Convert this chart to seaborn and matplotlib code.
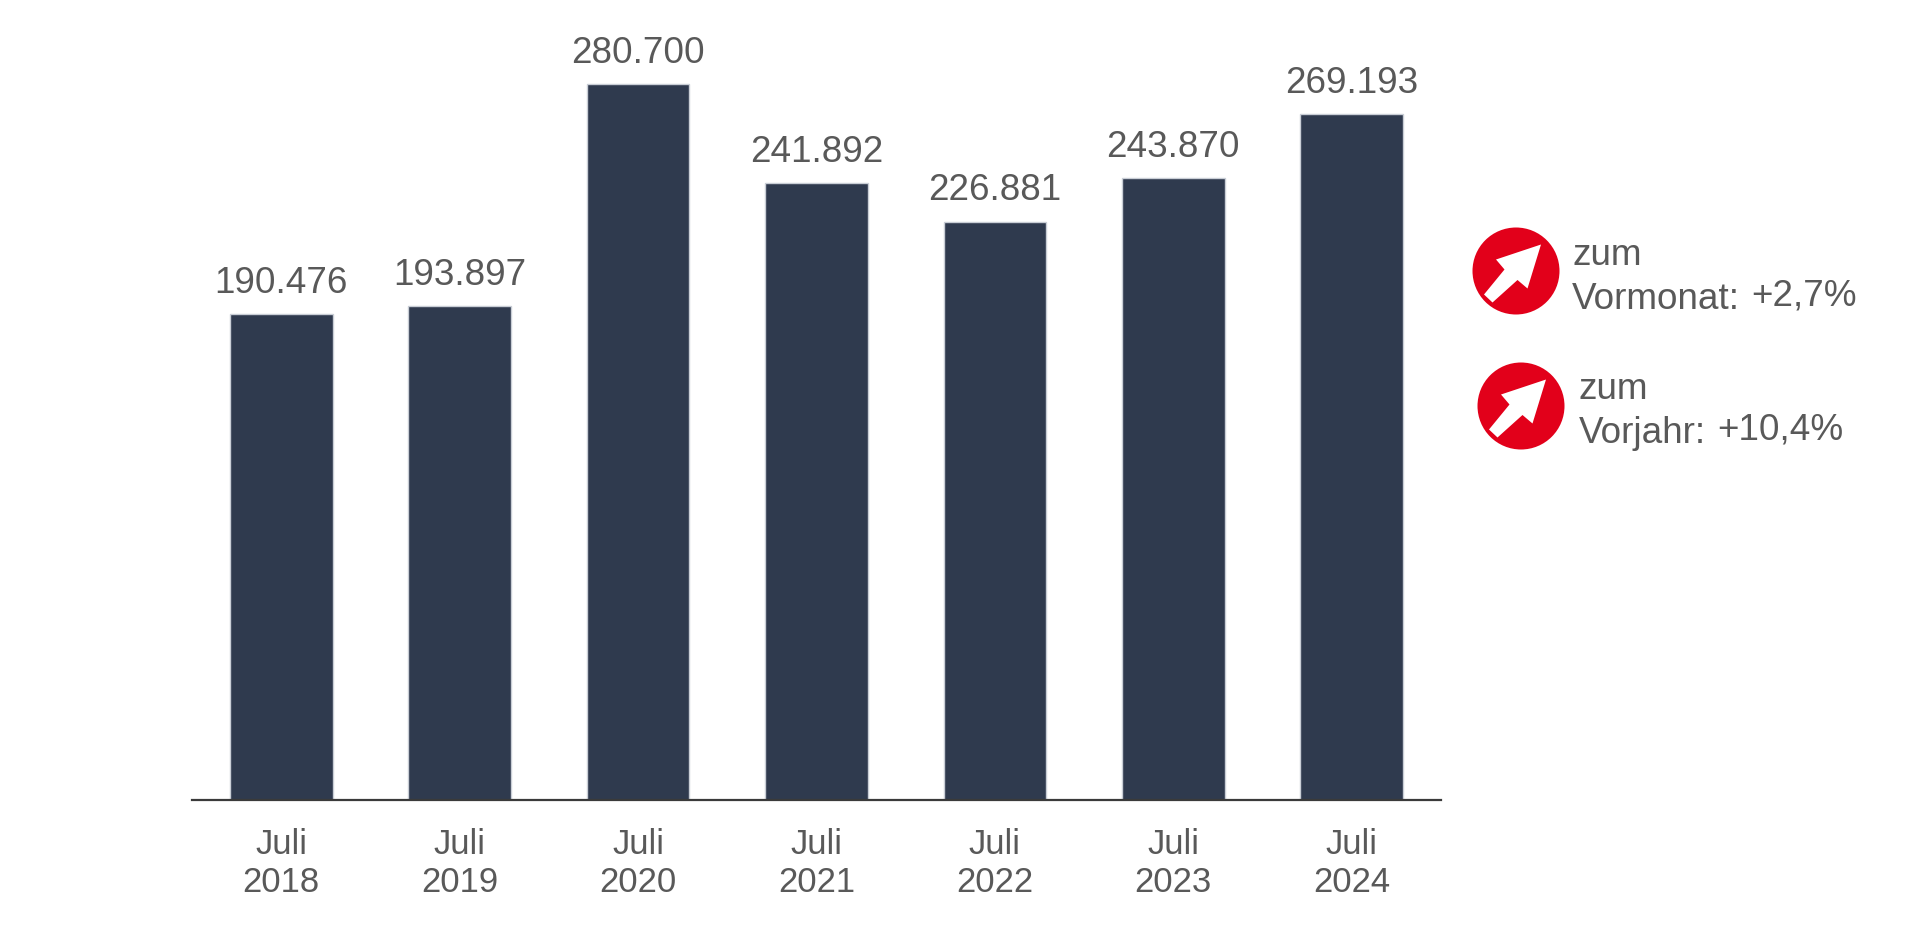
import matplotlib
matplotlib.use("Agg")
import matplotlib.pyplot as plt
from matplotlib.patches import Circle, Polygon
import seaborn as sns

# Chart values
years = ["2018", "2019", "2020", "2021", "2022", "2023", "2024"]
values = [190476, 193897, 280700, 241892, 226881, 243870, 269193]
tick_labels = ["Juli\n" + y for y in years]

# Side notes: second line, change
note_words = ["Vormonat:", "Vorjahr:"]
note_changes = ["+2,7%", "+10,4%"]

bar_color = "#2f3a4e"
text_color = "#595959"
red = "#e2001a"

sns.set_theme(style="white")
plt.rcParams["font.family"] = ["Liberation Sans", "DejaVu Sans"]

W, H = 1920, 926
fig = plt.figure(figsize=(W / 100, H / 100), dpi=100, facecolor="white")
ax = fig.add_axes([192 / W, 1 - 800 / H, 1249 / W, 800 / H])

sns.barplot(x=tick_labels, y=values, color=bar_color, saturation=1, width=0.575,
            edgecolor="#c9ced6", linewidth=1, ax=ax)

ax.set_xlim(-0.5, 6.5)
ax.set_ylim(0, 313850)
ax.set_yticks([])
ax.set_ylabel("")
sns.despine(ax=ax, left=True)
ax.spines["bottom"].set_color("#3a3a3a")
ax.spines["bottom"].set_linewidth(1.6)
ax.tick_params(axis="x", length=0, pad=20, labelsize=24.9, labelcolor=text_color)
for lab in ax.get_xticklabels():
    lab.set_linespacing(1.2)

ax.bar_label(ax.containers[0], labels=[f"{v:,}".replace(",", ".") for v in values],
             padding=9.5, fontsize=26.6, color=text_color)

# Overlay in pixel coordinates for the two red arrow badges
overlay = fig.add_axes([0, 0, 1, 1], facecolor="none")
overlay.set_xlim(0, W)
overlay.set_ylim(H, 0)
overlay.axis("off")

arrow_shape = [(25, -26.5), (-20, -11.5), (-11.5, -1.5), (-32, 23.5), (-23.5, 31.5), (1.5, 9), (11.5, 17.5)]


def add_note(cx, cy, tx, base1, base2, word, change, cx2, base3):
    overlay.add_patch(Circle((cx, cy), 43.5, color=red, lw=0))
    overlay.add_patch(Polygon([(cx + a, cy + b) for a, b in arrow_shape], color="white", lw=0))
    overlay.text(tx, base1, "zum", fontsize=26.6, color=text_color, va="baseline")
    overlay.text(tx, base2, word, fontsize=26.6, color=text_color, va="baseline")
    overlay.text(cx2, base3, change, fontsize=26.6, color=text_color, va="baseline")


add_note(1516, 271, 1572, 265, 309, note_words[0], note_changes[0], 1751, 305)
add_note(1521, 406, 1579, 399, 443, note_words[1], note_changes[1], 1717, 439)

fig.savefig("out.png", dpi=100)
